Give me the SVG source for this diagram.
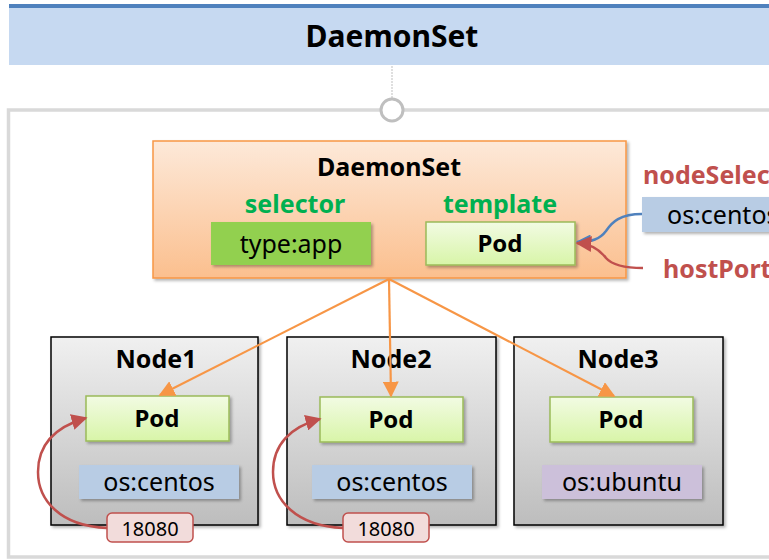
<svg xmlns="http://www.w3.org/2000/svg" width="769" height="560" viewBox="0 0 769 560">
<defs>
<linearGradient id="gOrange" x1="0" y1="0" x2="0" y2="1"><stop offset="0" stop-color="#fde9d9"/><stop offset="1" stop-color="#fbbf8e"/></linearGradient>
<linearGradient id="gPod" x1="0" y1="0" x2="0" y2="1"><stop offset="0" stop-color="#f2fbe3"/><stop offset="1" stop-color="#d8f5a8"/></linearGradient>
<linearGradient id="gNode" x1="0" y1="0" x2="0" y2="1"><stop offset="0" stop-color="#f0f0f0"/><stop offset="1" stop-color="#bdbdbd"/></linearGradient>
<filter id="sh" x="-10%" y="-10%" width="130%" height="130%"><feDropShadow dx="2" dy="2" stdDeviation="1.5" flood-color="#000" flood-opacity="0.3"/></filter>
<marker id="aOr" viewBox="0 0 10 10" refX="9" refY="5" markerWidth="16" markerHeight="16" orient="auto" markerUnits="userSpaceOnUse"><path d="M0,0 L10,5 L0,10 z" fill="#f79646"/></marker>
<marker id="aR" viewBox="0 0 10 10" refX="9" refY="5" markerWidth="16" markerHeight="16" orient="auto" markerUnits="userSpaceOnUse"><path d="M0,0 L10,5 L0,10 z" fill="#c0504d"/></marker>
<marker id="aB" viewBox="0 0 10 10" refX="9" refY="5" markerWidth="15" markerHeight="15" orient="auto" markerUnits="userSpaceOnUse"><path d="M0,0 L10,5 L0,10 z" fill="#4f81bd"/></marker>
</defs>
<style>
text{font-family:"Noto Sans","Open Sans","DejaVu Sans",sans-serif;text-anchor:middle}
.b{font-weight:bold}
.green{fill:#00b050;font-weight:bold;font-size:25px}
.red{fill:#c0504d;font-weight:bold;font-size:25px;text-anchor:start}
.pod{fill:url(#gPod);stroke:#9bbb59;stroke-width:1.5}
.node{fill:url(#gNode);stroke:#000;stroke-width:1.5}
.lbl{fill:#b8cce4}
.port{fill:#f2dcdb;stroke:#c0504d;stroke-width:1.5}
.co{fill:none;stroke:#f79646;stroke-width:2.2}
.cr{fill:none;stroke:#c0504d;stroke-width:2.5}
</style>
<rect width="769" height="560" fill="#fff"/>
<g id="header">
<rect x="9" y="8" width="760" height="57" fill="#c6d9f1"/>
<rect x="9" y="4" width="760" height="4" fill="#4f81bd"/>
<text x="392" y="47" class="b" font-size="30">DaemonSet</text>
</g>
<g id="frame">
<line x1="392" y1="66" x2="392" y2="99" stroke="#bfbfbf" stroke-width="1" stroke-dasharray="2,1"/>
<rect x="8.5" y="110" width="790" height="447" fill="none" stroke="#d9d9d9" stroke-width="3.5"/>
<circle cx="392" cy="110" r="11" fill="#fff" stroke="#bfbfbf" stroke-width="3"/>
</g>
<g id="daemonset">
<rect x="153" y="141" width="473" height="137" fill="url(#gOrange)" stroke="#f79646" stroke-width="1.5" filter="url(#sh)"/>
<text x="389" y="176" class="b" font-size="25">DaemonSet</text>
<text x="295" y="213" class="green">selector</text>
<text x="500" y="213" class="green">template</text>
<rect x="211" y="222" width="160" height="43" fill="#92d050" filter="url(#sh)"/>
<text x="291" y="253" font-size="25">type:app</text>
<rect x="426" y="222" width="149" height="43" class="pod" filter="url(#sh)"/>
<text x="500" y="252" class="b" font-size="24">Pod</text>
</g>
<g id="nodeSelector">
<text x="643" y="184" class="red">nodeSelector</text>
<rect x="642" y="197" width="140" height="35" class="lbl" filter="url(#sh)"/>
<text x="667" y="224" font-size="25" style="text-anchor:start">os:centos</text>
</g>
<g id="hostPort">
<text x="663" y="278" class="red">hostPort</text>
</g>
<g id="node1">
<rect x="51" y="337" width="207" height="188" class="node" filter="url(#sh)"/>
<text x="156" y="368" class="b" font-size="25">Node1</text>
<rect x="86" y="396" width="143" height="45" class="pod" filter="url(#sh)"/>
<text x="157" y="427" class="b" font-size="24">Pod</text>
<rect x="79" y="465" width="160" height="34" class="lbl" filter="url(#sh)"/>
<text x="159" y="491" font-size="25">os:centos</text>
</g>
<g id="node2">
<rect x="287" y="337" width="209" height="188" class="node" filter="url(#sh)"/>
<text x="391" y="368" class="b" font-size="25">Node2</text>
<rect x="320" y="397" width="143" height="45" class="pod" filter="url(#sh)"/>
<text x="391" y="428" class="b" font-size="24">Pod</text>
<rect x="312" y="465" width="160" height="34" class="lbl" filter="url(#sh)"/>
<text x="392" y="491" font-size="25">os:centos</text>
</g>
<g id="node3">
<rect x="514" y="337" width="209" height="188" class="node" filter="url(#sh)"/>
<text x="618" y="368" class="b" font-size="25">Node3</text>
<rect x="550" y="397" width="143" height="45" class="pod" filter="url(#sh)"/>
<text x="621" y="428" class="b" font-size="24">Pod</text>
<rect x="542" y="465" width="160" height="34" fill="#ccc0da" filter="url(#sh)"/>
<text x="622" y="491" font-size="25">os:ubuntu</text>
</g>
<g id="connectors">
<path class="co" d="M389,279 L160,395" marker-end="url(#aOr)"/>
<path class="co" d="M389,279 L391,396" marker-end="url(#aOr)"/>
<path class="co" d="M389,279 L614,396" marker-end="url(#aOr)"/>
<path d="M642,214 C620,214 612,222 606,231 C600,239 592,242 577,242" fill="none" stroke="#4f81bd" stroke-width="2.5" marker-end="url(#aB)"/>
<path class="cr" d="M643,268 C625,268 612,265 606,258 C600,250 592,244 577,243" marker-end="url(#aR)"/>
<path class="cr" d="M107,528 C60,526 38,500 38,472 C38,445 55,427 86,418" marker-end="url(#aR)"/>
<path class="cr" d="M343,528 C296,526 273,500 273,472 C273,445 290,427 320,419" marker-end="url(#aR)"/>
</g>
<g id="port1">
<rect x="107" y="513" width="86" height="29" rx="5" class="port"/>
<text x="150" y="536" font-size="20">18080</text>
</g>
<g id="port2">
<rect x="343" y="513" width="86" height="29" rx="5" class="port"/>
<text x="386" y="536" font-size="20">18080</text>
</g>
</svg>
